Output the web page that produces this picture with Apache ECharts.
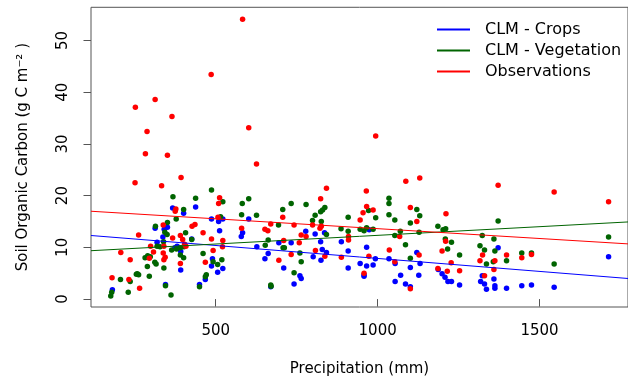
<!DOCTYPE html>
<html>
<head>
<meta charset="utf-8">
<script src="https://cdn.jsdelivr.net/npm/echarts@6/dist/echarts.min.js"></script>
<style>
html,body{margin:0;padding:0;background:#fff;}
#chart{width:628px;height:382px;}
</style>
</head>
<body>
<div id="chart"></div>
<script>
// ---- data ----
var seriesNames = ['CLM - Crops', 'CLM - Vegetation', 'Observations'];
var xTicks = [500, 1000, 1500];
var yTicks = [0, 10, 20, 30, 40, 50];

var cropsX = [367,401,438,487,509,522,602,351,313,341,512,583,579,337,319,426,381,374,392,392,490,487,522,506,468,450,345,181,627,
  778,807,836,974,888,824,733,695,966,829,842,909,662,652,801,825,993,1035,1121,946,966,986,1054,1131,710,909,1101,958,958,760,764,742,670,
  1071,1054,1086,1101,1127,1187,1199,1208,1217,1372,1713,1228,1253,1323,1318,1330,1336,1359,1362,1362,1398,1445,1475,1545];
var cropsY = [17.6,16.6,17.8,15.5,15.0,15.5,15.5,13.9,13.7,13.5,13.2,12.8,12.1,12.0,11.0,11.6,10.2,9.9,9.2,5.6,7.8,6.4,5.9,5.2,3.8,2.8,2.8,1.8,10.1,
  13.1,12.6,12.8,13.4,11.1,11.1,10.9,10.9,10.0,9.6,9.0,9.3,8.8,7.8,8.2,7.5,7.8,7.8,9.0,6.9,6.4,6.6,6.9,6.9,6.0,6.0,6.1,4.7,4.4,4.5,4.0,2.9,2.4,
  4.6,3.4,2.9,2.4,4.6,5.7,4.9,4.2,3.4,9.9,8.2,3.4,2.7,4.5,3.4,2.9,1.9,3.9,2.6,2.1,2.1,2.6,2.7,2.3];

var vegX = [487,368,438,522,401,582,602,580,626,515,378,351,314,343,350,407,426,319,328,339,364,379,391,402,282,290,298,312,316,340,391,401,
  461,492,506,519,471,468,450,289,255,258,262,236,206,295,230,176,179,345,362,
  733,779,707,837,830,824,807,799,826,694,909,1035,1035,972,994,1035,1053,1121,1130,1101,1186,1202,1210,887,909,946,958,966,986,842,1070,
  1053,1128,662,653,708,712,1086,760,764,1101,742,670,671,1216,1372,1209,1228,1323,1359,1316,1330,1362,1253,1336,1357,1398,1445,1475,1545,1713];
var vegY = [21.1,19.8,19.5,18.8,17.3,18.5,19.4,16.3,16.2,15.9,15.5,14.8,14.1,12.9,12.5,12.8,11.5,10.2,10.1,11.1,9.5,9.7,9.9,10.1,8.0,8.4,8.2,7.1,6.8,6.0,8.5,8.0,
  8.8,7.2,6.7,7.6,4.7,4.3,2.4,6.3,4.8,4.9,4.7,3.4,3.8,4.4,1.3,0.6,1.3,2.6,0.8,
  18.5,18.3,17.3,17.7,17.2,16.9,16.2,15.2,15.0,14.3,15.8,19.5,18.5,17.1,15.7,16.3,15.3,17.3,16.1,14.7,14.1,13.4,13.6,13.6,13.1,13.5,13.2,13.8,13.5,12.5,13.1,
  12.3,12.9,11.4,10.4,9.9,9.9,10.5,8.9,7.2,7.9,5.1,2.7,2.5,9.7,15.1,11.6,11.0,12.3,11.6,10.3,9.5,9.3,8.5,6.8,7.2,7.4,8.9,8.9,6.8,12.0];

var obsX = [583,486,313,252,365,288,602,283,351,994,251,333,393,626,377,375,512,509,507,262,338,427,436,461,367,391,398,404,408,487,522,521,580,
  299,340,308,338,344,340,295,207,236,391,468,492,180,232,265,
  1087,1130,842,965,824,966,986,955,1101,707,1211,946,1121,670,742,799,826,822,652,661,764,779,910,910,1068,758,710,1036,733,808,837,888,973,1128,
  695,1053,958,1101,1186,1199,1210,1215,1372,1545,1713,1227,1253,1324,1316,1362,1359,1398,1445,1475,1330];
var obsY = [54.1,43.4,38.6,37.1,35.3,32.4,33.1,28.1,27.8,31.5,22.5,21.9,23.5,26.1,17.4,17.0,19.6,18.5,15.8,12.4,14.3,14.1,14.4,12.8,11.8,12.3,11.5,10.6,10.2,11.6,11.3,10.1,13.7,
  10.2,10.2,9.1,8.9,8.1,7.6,7.9,9.0,7.6,6.9,7.1,9.4,4.1,3.8,2.1,
  22.8,23.4,21.4,20.9,19.4,17.9,17.2,16.7,17.7,15.8,16.5,15.3,15.0,14.5,14.3,14.3,14.1,13.7,13.5,13.2,12.4,12.1,12.1,11.4,12.1,10.9,11.3,9.5,8.6,9.4,8.3,8.1,8.3,8.5,
  7.5,7.2,5.0,2.0,5.9,9.3,11.2,5.4,22.0,20.7,18.8,7.0,5.5,8.5,7.4,7.4,5.7,8.5,8.0,8.6,4.5];

// fitted regression lines (end points read at the plot edges)
var fitX = [115, 1773];
var cropsFit = [12.29, 3.98];
var vegFit = [9.35, 14.91];
var obsFit = [16.98, 10.67];

// ---- build ----
var colors = ['#0000FF', '#006400', '#FF0000'];
function zip(a, b) { return a.map(function (v, i) { return [v, b[i]]; }); }
var font = 'DejaVu Sans';

var scatterSets = [[cropsX, cropsY], [vegX, vegY], [obsX, obsY]];
var fits = [cropsFit, vegFit, obsFit];
var series = [];
scatterSets.forEach(function (s, i) {
  series.push({
    type: 'scatter', name: seriesNames[i] + ' pts', data: zip(s[0], s[1]),
    symbol: 'circle', symbolSize: 5.5, itemStyle: { color: colors[i], opacity: 1 },
    z: 2 + i, silent: true
  });
});
fits.forEach(function (f, i) {
  series.push({
    type: 'line', name: seriesNames[i], data: zip(fitX, f),
    showSymbol: false, symbol: 'none', lineStyle: { color: colors[i], width: 1 },
    itemStyle: { color: colors[i] }, z: 10, silent: true, clip: true
  });
});

var chart = echarts.init(document.getElementById('chart'), null, { renderer: 'canvas' });
chart.setOption({
  animation: false,
  backgroundColor: '#fff',
  textStyle: { fontFamily: font },
  grid: { left: 91, top: 7.3, width: 539, height: 303.4, show: true, borderColor: '#555', borderWidth: 1, backgroundColor: 'transparent' },
  legend: {
    orient: 'vertical', left: 437, top: 19, padding: 0, itemGap: 0,
    itemWidth: 33, itemHeight: 2, icon: 'rect',
    data: seriesNames.map(function (n) { return { name: n, icon: 'rect' }; }),
    textStyle: { fontFamily: font, fontSize: 16, color: '#000', lineHeight: 21, padding: [0, 0, 0, 10] },
    selectedMode: false
  },
  xAxis: {
    type: 'value', min: 115, max: 1773,
    name: 'Precipitation (mm)', nameLocation: 'middle', nameGap: 55,
    nameTextStyle: { fontFamily: font, fontSize: 15, color: '#000' },
    axisLine: { show: false },
    axisTick: { show: true, length: 7.5, customValues: xTicks, lineStyle: { color: '#555' } },
    axisLabel: { customValues: xTicks, margin: 17, fontFamily: font, fontSize: 15, color: '#000',
      formatter: function (v) { return String(v); } },
    splitLine: { show: false }
  },
  yAxis: {
    type: 'value', min: -1.53, max: 56.4,
    name: 'Soil Organic Carbon (g C m\u207B\u00B2 )', nameLocation: 'middle', nameGap: 60,
    nameTextStyle: { fontFamily: font, fontSize: 15, color: '#000' },
    axisLine: { show: false },
    axisTick: { show: true, length: 7.5, customValues: yTicks, lineStyle: { color: '#555' } },
    axisLabel: { customValues: yTicks, rotate: 90, margin: 20, fontFamily: font, fontSize: 15, color: '#000',
      formatter: function (v) { return String(v); } },
    splitLine: { show: false }
  },
  series: series
});
</script>
</body>
</html>
